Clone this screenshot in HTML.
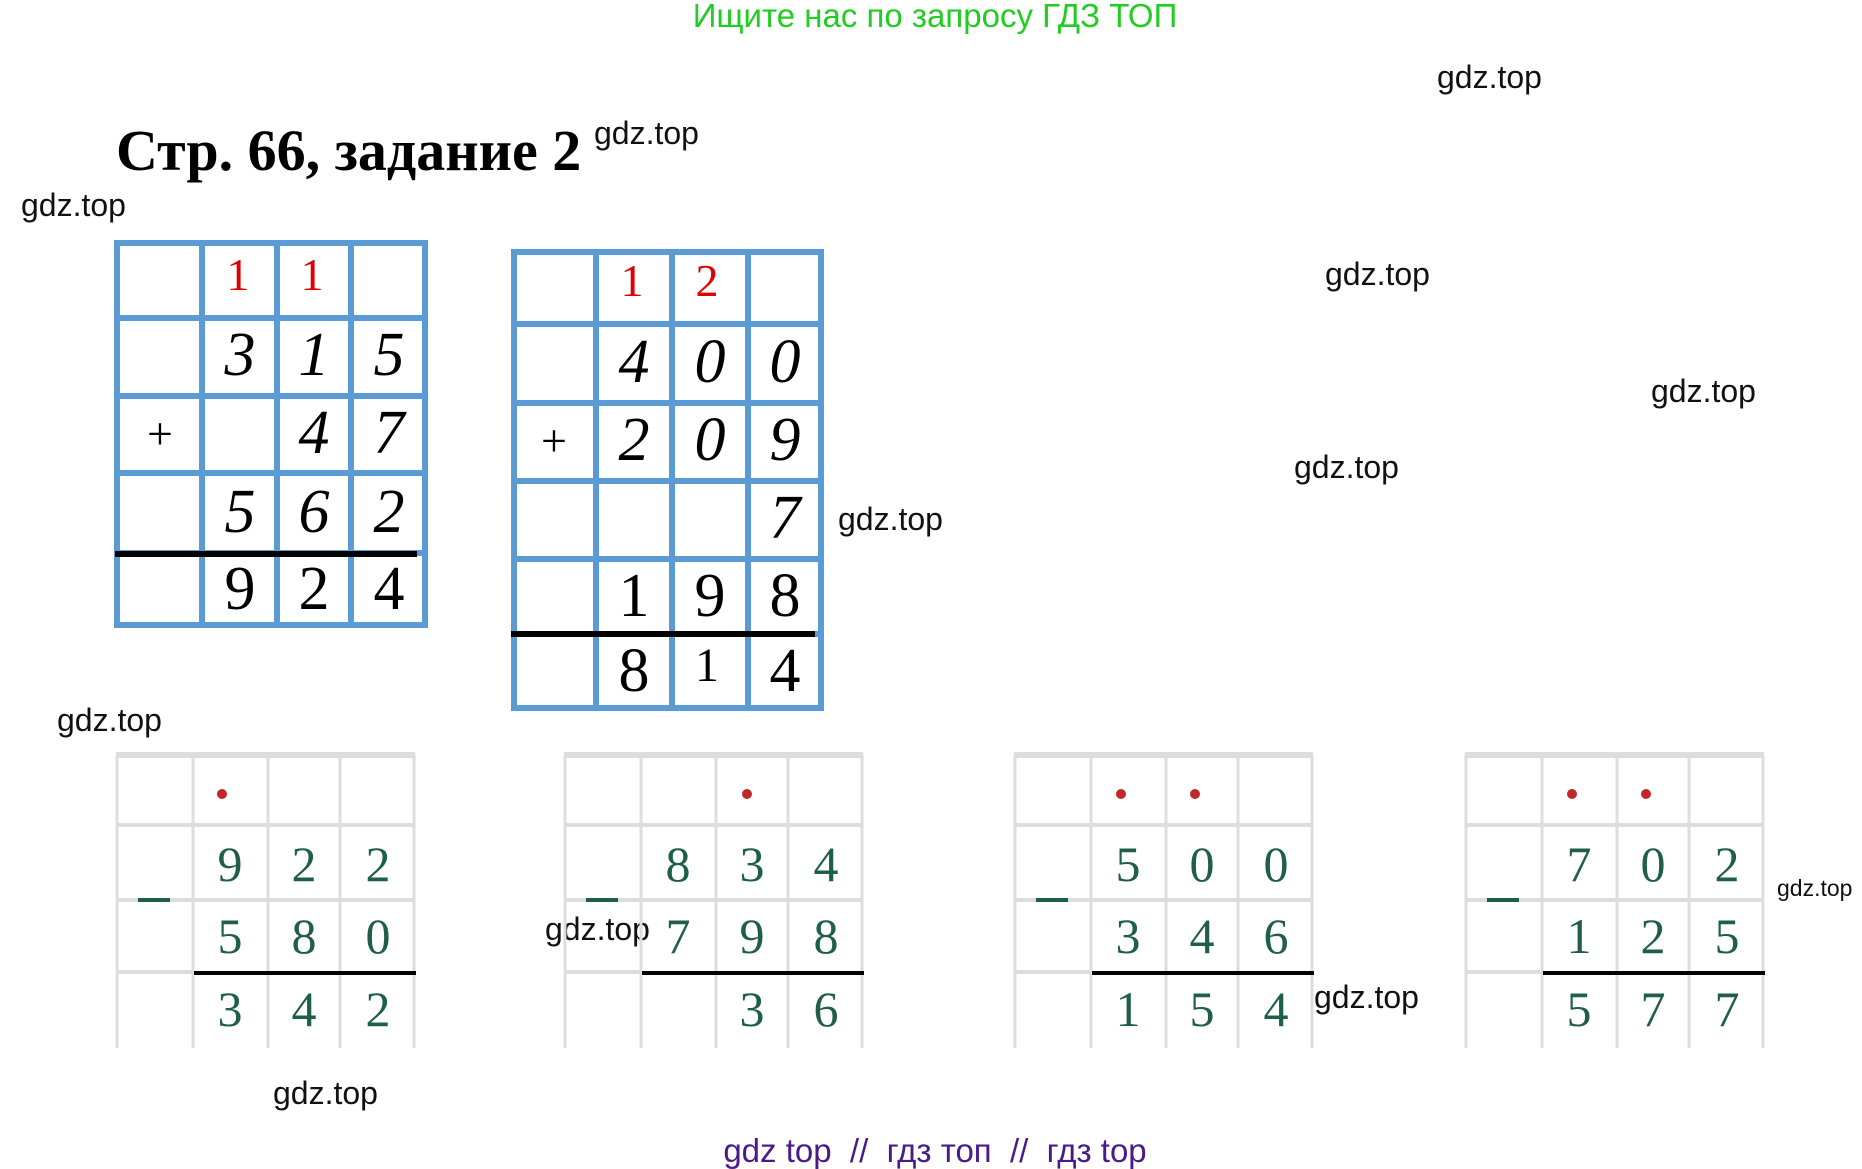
<!DOCTYPE html>
<html><head><meta charset="utf-8"><style>
html,body{margin:0;padding:0;background:#fff;}
body{width:1862px;height:1169px;position:relative;overflow:hidden;}
svg{position:absolute;left:0;top:0;}
</style></head><body>
<svg width="1862" height="1169" viewBox="0 0 1862 1169" xmlns="http://www.w3.org/2000/svg">
<g font-family="Liberation Sans, sans-serif">
<text x="935" y="27" font-size="33" fill="#22cc22" text-anchor="middle">Ищите нас по запросу ГДЗ ТОП</text>
<g font-size="32" fill="#111">
<text x="1437" y="88">gdz.top</text>
<text x="594" y="144">gdz.top</text>
<text x="21" y="216">gdz.top</text>
<text x="1325" y="285">gdz.top</text>
<text x="1651" y="402">gdz.top</text>
<text x="1294" y="478">gdz.top</text>
<text x="838" y="530">gdz.top</text>
<text x="57" y="731">gdz.top</text>
<text x="545" y="940">gdz.top</text>
<text x="1314" y="1008">gdz.top</text>
<text x="273" y="1104">gdz.top</text>
<text x="1777" y="896" font-size="23">gdz.top</text>
</g>
<text x="935" y="1162" font-size="33" fill="#4b1a8a" text-anchor="middle">gdz top&#160;&#160;//&#160;&#160;гдз топ&#160;&#160;//&#160;&#160;гдз top</text>
</g>
<text x="116" y="170" font-family="Liberation Serif, serif" font-weight="bold" font-size="58" fill="#000">Стр. 66, задание 2</text>

<!-- Left table -->
<g stroke="#5b9bd5" stroke-width="6" fill="none">
<rect x="117" y="243" width="308" height="382"/>
<line x1="202" y1="243" x2="202" y2="625"/><line x1="277" y1="243" x2="277" y2="625"/><line x1="351" y1="243" x2="351" y2="625"/>
<line x1="117" y1="318" x2="425" y2="318"/><line x1="117" y1="396" x2="425" y2="396"/><line x1="117" y1="473" x2="425" y2="473"/><line x1="117" y1="553" x2="425" y2="553"/>
</g>
<line x1="115" y1="554" x2="417" y2="554" stroke="#000" stroke-width="6"/>
<g font-family="Liberation Serif, serif" text-anchor="middle">
<g fill="#e00000" font-size="46"><text x="238" y="290">1</text><text x="312" y="290">1</text></g>
<g font-style="italic" font-size="62" fill="#000">
<text x="240" y="375">3</text><text x="314" y="375">1</text><text x="389" y="375">5</text>
<text x="314" y="453">4</text><text x="389" y="453">7</text>
<text x="240" y="532">5</text><text x="314" y="532">6</text><text x="389" y="532">2</text>
</g>
<g font-size="62" fill="#000"><text x="240" y="609">9</text><text x="314" y="609">2</text><text x="389" y="609">4</text></g>
<text x="160" y="449" font-size="46" fill="#000">+</text>
</g>

<!-- Right table -->
<g transform="translate(-3,-2)">
<g stroke="#5b9bd5" stroke-width="6" fill="none">
<rect x="517" y="254" width="307" height="456"/>
<line x1="599" y1="254" x2="599" y2="710"/><line x1="675" y1="254" x2="675" y2="710"/><line x1="751" y1="254" x2="751" y2="710"/>
<line x1="517" y1="326" x2="824" y2="326"/><line x1="517" y1="405" x2="824" y2="405"/><line x1="517" y1="483" x2="824" y2="483"/><line x1="517" y1="561" x2="824" y2="561"/><line x1="517" y1="636" x2="824" y2="636"/>
</g>
<line x1="514" y1="636" x2="818" y2="636" stroke="#000" stroke-width="6"/>
<g font-family="Liberation Serif, serif" text-anchor="middle">
<g fill="#e00000" font-size="46"><text x="635" y="298">1</text><text x="710" y="298">2</text></g>
<g font-style="italic" font-size="62" fill="#000">
<text x="637" y="384">4</text><text x="713" y="384">0</text><text x="788" y="384">0</text>
<text x="637" y="462">2</text><text x="713" y="462">0</text><text x="788" y="462">9</text>
<text x="788" y="540">7</text>
</g>
<g font-size="62" fill="#000"><text x="637" y="618">1</text><text x="713" y="618">9</text><text x="788" y="618">8</text>
<text x="637" y="693">8</text><text x="710" y="683" font-size="48">1</text><text x="788" y="693">4</text></g>
<text x="557" y="458" font-size="46">+</text>
</g>
</g>

<!-- Bottom grids -->
<defs>
<g id="grid">
<g stroke="#dddddd" stroke-width="3" fill="none">
<line x1="0" y1="755" x2="299" y2="755" stroke-width="6"/>
<line x1="0" y1="825" x2="299" y2="825" stroke-width="4"/>
<line x1="0" y1="900" x2="299" y2="900" stroke-width="4"/>
<line x1="0" y1="972" x2="78" y2="972" stroke-width="4"/>
<line x1="1" y1="755" x2="1" y2="1048"/><line x1="77" y1="755" x2="77" y2="1048"/><line x1="152" y1="755" x2="152" y2="1048"/><line x1="224" y1="755" x2="224" y2="1048"/><line x1="298" y1="755" x2="298" y2="1048"/>
</g>
<line x1="78" y1="973" x2="300" y2="973" stroke="#000" stroke-width="4"/>
<line x1="22" y1="900" x2="54" y2="900" stroke="#1f5f47" stroke-width="4"/>
</g>
</defs>
<use href="#grid" x="116"/>
<use href="#grid" x="564"/>
<use href="#grid" x="1014"/>
<use href="#grid" x="1465"/>
<g fill="#c0282c">
<circle cx="222" cy="794" r="5"/>
<circle cx="747" cy="794" r="5"/>
<circle cx="1121" cy="794" r="5"/><circle cx="1195" cy="794" r="5"/>
<circle cx="1572" cy="794" r="5"/><circle cx="1646" cy="794" r="5"/>
</g>
<g font-family="Liberation Serif, serif" font-size="50" fill="#1f5f47" text-anchor="middle">
<text x="230" y="881">9</text><text x="304" y="881">2</text><text x="378" y="881">2</text>
<text x="230" y="953">5</text><text x="304" y="953">8</text><text x="378" y="953">0</text>
<text x="230" y="1026">3</text><text x="304" y="1026">4</text><text x="378" y="1026">2</text>

<text x="678" y="881">8</text><text x="752" y="881">3</text><text x="826" y="881">4</text>
<text x="678" y="953">7</text><text x="752" y="953">9</text><text x="826" y="953">8</text>
<text x="752" y="1026">3</text><text x="826" y="1026">6</text>

<text x="1128" y="881">5</text><text x="1202" y="881">0</text><text x="1276" y="881">0</text>
<text x="1128" y="953">3</text><text x="1202" y="953">4</text><text x="1276" y="953">6</text>
<text x="1128" y="1026">1</text><text x="1202" y="1026">5</text><text x="1276" y="1026">4</text>

<text x="1579" y="881">7</text><text x="1653" y="881">0</text><text x="1727" y="881">2</text>
<text x="1579" y="953">1</text><text x="1653" y="953">2</text><text x="1727" y="953">5</text>
<text x="1579" y="1026">5</text><text x="1653" y="1026">7</text><text x="1727" y="1026">7</text>
</g>
</svg>
</body></html>
